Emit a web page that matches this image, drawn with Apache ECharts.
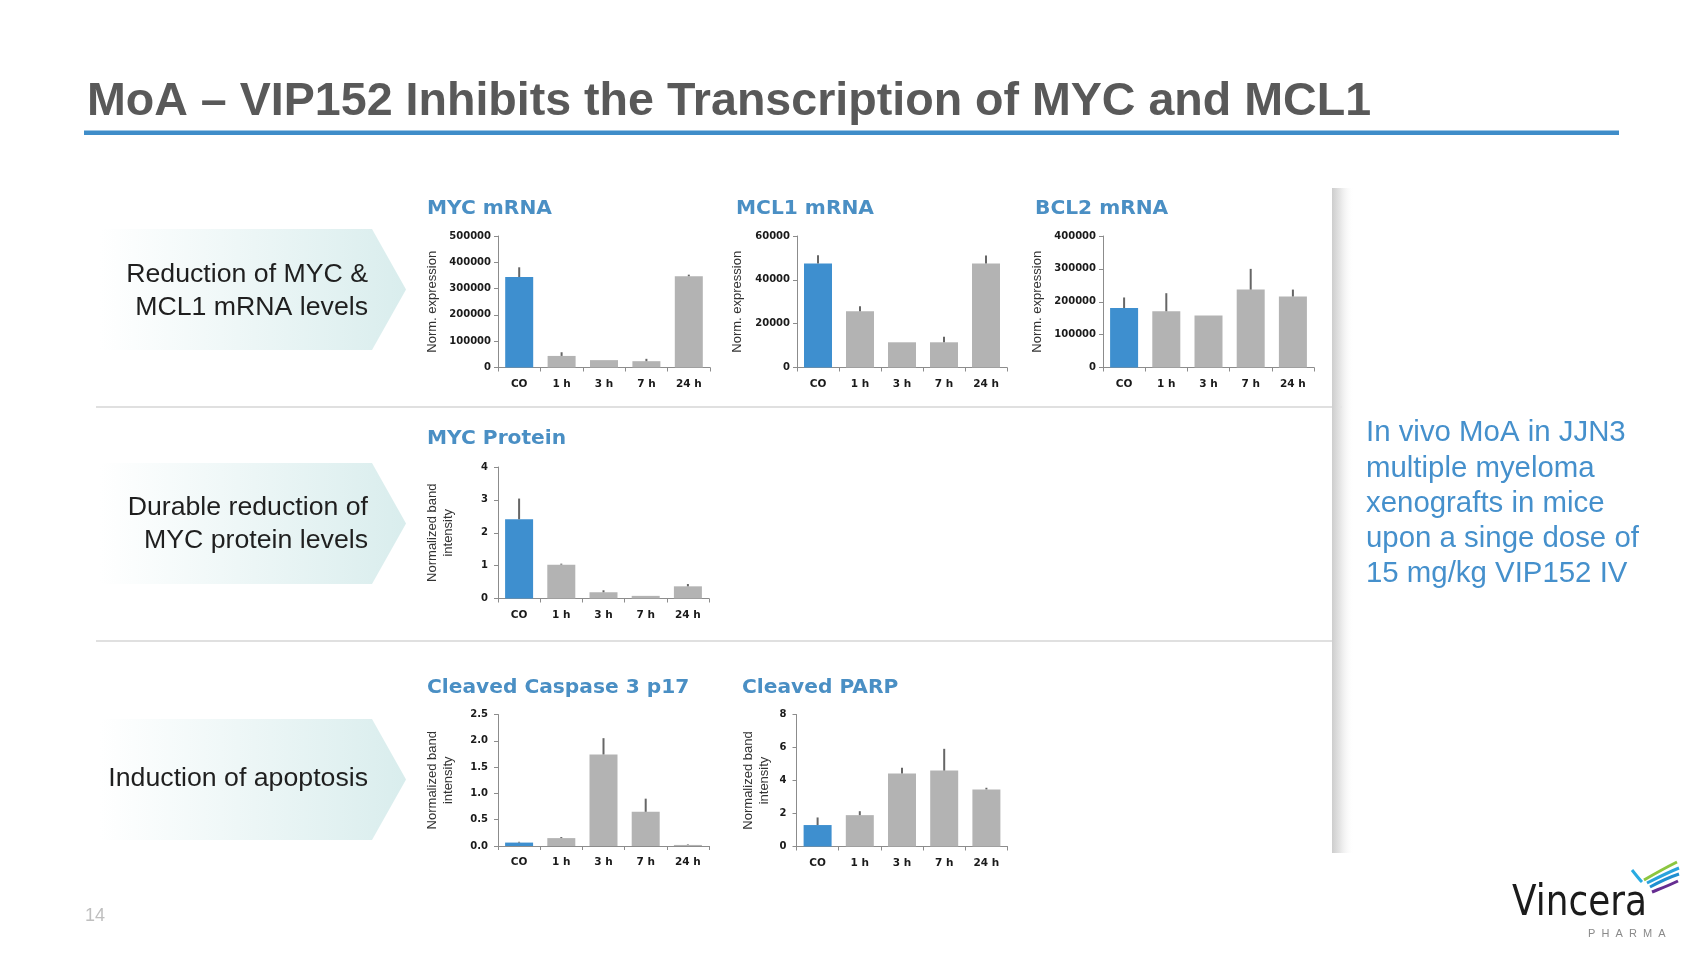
<!DOCTYPE html>
<html><head><meta charset="utf-8">
<script src="https://cdn.jsdelivr.net/npm/echarts@6/dist/echarts.min.js"></script>
<style>html,body{margin:0;padding:0;background:#fff}#c{width:1707px;height:960px}</style>
</head><body><div id="c"></div>
<script>
// ---- data ----
const categories = ['CO', '1 h', '3 h', '7 h', '24 h'];
const mycMrna = [344000, 44000, 28000, 24000, 347000];
const mycMrnaErr = [37000, 14000, 0, 9000, 6000];
const mcl1Mrna = [47400, 25700, 11500, 11500, 47400];
const mcl1MrnaErr = [3800, 2200, 0, 2500, 3700];
const bcl2Mrna = [181000, 171000, 158000, 237000, 216000];
const bcl2MrnaErr = [32000, 55000, 0, 63000, 21000];
const mycProtein = [2.41, 1.03, 0.19, 0.08, 0.37];
const mycProteinErr = [0.63, 0.03, 0.06, 0, 0.07];
const caspase3 = [0.065, 0.15, 1.74, 0.65, 0.02];
const caspase3Err = [0.015, 0.02, 0.31, 0.25, 0.01];
const parp = [1.3, 1.9, 4.42, 4.6, 3.46];
const parpErr = [0.46, 0.24, 0.36, 1.32, 0.1];
// axis ranges (max, interval, label decimals)
const mycMrnaAxis = [500000, 100000, 0];
const mcl1MrnaAxis = [60000, 20000, 0];
const bcl2MrnaAxis = [400000, 100000, 0];
const mycProteinAxis = [4, 1, 0];
const caspase3Axis = [2.5, 0.5, 1];
const parpAxis = [8, 2, 0];
const panelTitles = ['MYC mRNA', 'MCL1 mRNA', 'BCL2 mRNA', 'MYC Protein', 'Cleaved Caspase 3 p17', 'Cleaved PARP'];
const mrnaAxisName = 'Norm. expression';
const bandAxisName = 'Normalized band\nintensity';

const BLUE = '#3e8fcf', GRAY = '#b3b3b3', TITLE_BLUE = '#4a8fc4';
const panels = [
  {values: mycMrna, err: mycMrnaErr, axis: mycMrnaAxis, name: mrnaAxisName, grid: {left: 498, top: 236, width: 212, height: 131.5}, nameGap: 58, lm: 7, title: [427, 209]},
  {values: mcl1Mrna, err: mcl1MrnaErr, axis: mcl1MrnaAxis, name: mrnaAxisName, grid: {left: 797, top: 236, width: 210, height: 131.5}, nameGap: 52, lm: 7, title: [736, 209]},
  {values: bcl2Mrna, err: bcl2MrnaErr, axis: bcl2MrnaAxis, name: mrnaAxisName, grid: {left: 1103, top: 236, width: 211, height: 131.5}, nameGap: 58, lm: 7, title: [1035, 209]},
  {values: mycProtein, err: mycProteinErr, axis: mycProteinAxis, name: bandAxisName, grid: {left: 498, top: 467, width: 211, height: 131.5}, nameGap: 42, lm: 10, title: [427, 439]},
  {values: caspase3, err: caspase3Err, axis: caspase3Axis, name: bandAxisName, grid: {left: 498, top: 714.5, width: 211, height: 131.5}, nameGap: 42, lm: 10, title: [427, 688]},
  {values: parp, err: parpErr, axis: parpAxis, name: bandAxisName, grid: {left: 796.5, top: 714.5, width: 211, height: 132}, nameGap: 24, lm: 10, title: [742, 688]}
];

const SANS = '"Liberation Sans", Arial, sans-serif';
const grids = [], xAxes = [], yAxes = [], series = [];
panels.forEach((p, k) => {
  grids.push(Object.assign({containLabel: false}, p.grid));
  xAxes.push({
    type: 'category', gridIndex: k, data: categories,
    axisLine: {lineStyle: {color: '#8c8c8c', width: 1}},
    axisTick: {show: true, length: 4, lineStyle: {color: '#8c8c8c'}},
    axisLabel: {margin: 11, color: '#1a1a1a', fontFamily: 'DejaVu Sans', fontWeight: 'bold', fontSize: 10.5}
  });
  yAxes.push({
    type: 'value', gridIndex: k, min: 0, max: p.axis[0], interval: p.axis[1],
    name: p.name, nameLocation: 'middle', nameRotate: 90, nameGap: p.nameGap,
    nameTextStyle: {color: '#333', fontFamily: SANS, fontSize: 13, lineHeight: 16},
    axisLine: {show: true, lineStyle: {color: '#8c8c8c', width: 1}},
    axisTick: {show: true, length: 4, lineStyle: {color: '#8c8c8c'}},
    splitLine: {show: false},
    axisLabel: {margin: p.lm, color: '#1a1a1a', fontFamily: 'DejaVu Sans', fontWeight: 'bold', fontSize: 10,
      formatter: v => v.toFixed(p.axis[2])}
  });
  series.push({
    type: 'bar', xAxisIndex: k, yAxisIndex: k, barWidth: 28,
    data: p.values.map((v, i) => ({value: v, itemStyle: {color: i === 0 ? BLUE : GRAY}})),
    z: 2
  });
  series.push({
    type: 'custom', xAxisIndex: k, yAxisIndex: k, z: 3,
    encode: {x: 0, y: 1},
    data: p.values.map((v, i) => [i, v, p.err[i]]),
    renderItem: (params, api) => {
      const i = api.value(0), v = api.value(1), e = api.value(2);
      if (!e) return null;
      const a = api.coord([i, v]), b = api.coord([i, v + e]);
      return {type: 'line', shape: {x1: a[0], y1: a[1], x2: b[0], y2: b[1]},
        style: {stroke: '#666', lineWidth: 2}};
    }
  });
});

const graphic = [];
// main title
graphic.push({type: 'text', x: 87, y: 102, style: {text: 'MoA – VIP152 Inhibits the Transcription of MYC and MCL1',
  font: 'bold 46.6px ' + SANS, fill: '#595959', textAlign: 'left', textVerticalAlign: 'middle'}});
graphic.push({type: 'rect', shape: {x: 84, y: 130.5, width: 1535, height: 4.5}, style: {fill: '#3f8dc9'}});
// chevrons
function chevron(y0, y1) {
  const ym = (y0 + y1) / 2;
  return {type: 'polygon', shape: {points: [[100, y0], [372, y0], [406, ym], [372, y1], [100, y1]]},
    style: {fill: new echarts.graphic.LinearGradient(0, 0, 1, 0, [
      {offset: 0, color: 'rgba(255,255,255,1)'}, {offset: 0.45, color: '#eef7f7'}, {offset: 1, color: '#d9eded'}])}};
}
graphic.push(chevron(229, 350), chevron(463, 584), chevron(719, 840));
const leftTexts = [['Reduction of MYC &\nMCL1 mRNA levels', 291], ['Durable reduction of\nMYC protein levels', 524], ['Induction of apoptosis', 779]];
leftTexts.forEach(t => graphic.push({type: 'text', x: 368, y: t[1], style: {text: t[0], font: '26.7px ' + SANS,
  fill: '#1f1f1f', textAlign: 'right', textVerticalAlign: 'middle', lineHeight: 33}}));
// separators
graphic.push({type: 'line', shape: {x1: 96, y1: 407, x2: 1342, y2: 407}, style: {stroke: '#d6d6d6', lineWidth: 1.5}});
graphic.push({type: 'line', shape: {x1: 96, y1: 641, x2: 1333, y2: 641}, style: {stroke: '#d6d6d6', lineWidth: 1.5}});
// vertical shadow band
graphic.push({type: 'rect', shape: {x: 1332, y: 188, width: 22, height: 665},
  style: {fill: new echarts.graphic.LinearGradient(0, 0, 1, 0, [
    {offset: 0, color: '#cdcdcd'}, {offset: 0.35, color: '#e4e4e4'}, {offset: 1, color: 'rgba(255,255,255,0)'}])}});
// panel titles
panels.forEach((p, k) => graphic.push({type: 'text', x: p.title[0], y: p.title[1], style: {text: panelTitles[k],
  font: 'bold 20.2px "DejaVu Sans"', fill: TITLE_BLUE, textAlign: 'left', textVerticalAlign: 'middle'}}));
// right text
graphic.push({type: 'text', x: 1366, y: 503.7, style: {text: 'In vivo MoA in JJN3\nmultiple myeloma\nxenografts in mice\nupon a singe dose of\n15 mg/kg VIP152 IV',
  font: '29.4px ' + SANS, fill: '#4590cc', textAlign: 'left', textVerticalAlign: 'middle', lineHeight: 35.3}});
// page number
graphic.push({type: 'text', x: 85, y: 916, style: {text: '14', font: '18px ' + SANS, fill: '#bfbfbf', textAlign: 'left', textVerticalAlign: 'middle'}});
// logo
graphic.push({type: 'text', x: 1512, y: 904, scaleX: 1.05, scaleY: 1.12, originX: 0, originY: 0, style: {text: 'Vincera', font: '38px "DejaVu Sans Condensed", "DejaVu Sans"', fill: '#1b1b1b', textAlign: 'left', textVerticalAlign: 'middle'}});
graphic.push({type: 'text', x: 1588, y: 934, style: {text: 'P  H  A  R  M  A', font: '11px ' + SANS, fill: '#8a8a8a', textAlign: 'left', textVerticalAlign: 'middle'}});
const wings = [
  [[1632, 870], [1636, 875], [1639, 879], [1642, 882], '#29abe2'],
  [[1644, 880], [1656, 873], [1667, 867], [1677, 862], '#8cc63f'],
  [[1647, 883], [1659, 877], [1669, 872], [1679, 868], '#29a3dc'],
  [[1650, 887], [1661, 881], [1670, 877], [1679, 874], '#1f8fd0'],
  [[1652, 892], [1662, 888], [1670, 885], [1678, 881], '#662d91']
];
wings.forEach(w => graphic.push({type: 'bezierCurve', shape: {x1: w[0][0], y1: w[0][1], cpx1: w[1][0], cpy1: w[1][1], cpx2: w[2][0], cpy2: w[2][1], x2: w[3][0], y2: w[3][1]},
  style: {stroke: w[4], lineWidth: 3, fill: null}}));

const chart = echarts.init(document.getElementById('c'), null, {renderer: 'canvas'});
chart.setOption({animation: false, backgroundColor: '#fff', grid: grids, xAxis: xAxes, yAxis: yAxes, series: series, graphic: graphic});
</script></body></html>
